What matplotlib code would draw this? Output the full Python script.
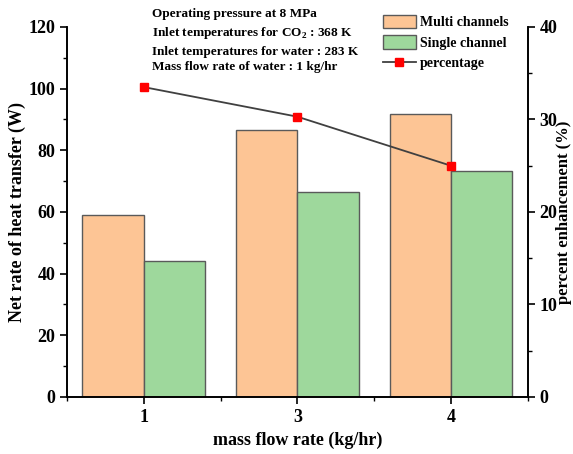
import numpy as np
import matplotlib.pyplot as plt
from matplotlib.ticker import MultipleLocator

plt.rcParams['font.family'] = ['Liberation Serif', 'DejaVu Serif']
plt.rcParams['font.weight'] = 'bold'
plt.rcParams['mathtext.fontset'] = 'custom'
plt.rcParams['mathtext.rm'] = 'Liberation Serif:bold'

flow_rates = ['1', '3', '4']
multi_channels = [59.0, 86.7, 91.8]
single_channel = [44.2, 66.5, 73.4]
percentage = [33.5, 30.3, 25.0]

x = np.arange(1, len(flow_rates) + 1)
w = 0.4

fig = plt.figure(figsize=(5.73, 4.54), dpi=100)
ax = fig.add_axes([0.117, 0.1256, 0.804, 0.815])
ax2 = ax.twinx()

b1 = ax.bar(x - w / 2, multi_channels, w, color='#FDC595', edgecolor='#5a5a5a', linewidth=1,
            label='Multi channels')
b2 = ax.bar(x + w / 2, single_channel, w, color='#9ED89C', edgecolor='#5a5a5a', linewidth=1,
            label='Single channel')
l1, = ax2.plot(x, percentage, color='#404040', linewidth=1.3, marker='s', markersize=6,
               markerfacecolor='red', markeredgecolor='red', label='percentage')

ax.set_xlim(0.5, 3.5)
ax.set_ylim(0, 120)
ax2.set_ylim(0, 40)
ax.set_xticks(x)
ax.set_xticklabels(flow_rates)
ax.xaxis.set_minor_locator(MultipleLocator(0.5))
ax.yaxis.set_minor_locator(MultipleLocator(10))
ax2.yaxis.set_major_locator(MultipleLocator(10))
ax2.yaxis.set_minor_locator(MultipleLocator(5))

for a in (ax, ax2):
    a.spines['top'].set_visible(False)
    for s in a.spines.values():
        s.set_linewidth(1.2)
    a.tick_params(which='major', direction='out', length=5, width=1.2, labelsize=13)
    a.tick_params(which='minor', direction='out', length=3, width=1.0)

ax.set_ylabel('Net rate of heat transfer (W)', fontsize=13, fontweight='bold', labelpad=2)
ax.set_xlabel('mass flow rate (kg/hr)', fontsize=13, fontweight='bold', labelpad=4)
ax2.set_ylabel('percent enhancement (%)', fontsize=12, fontweight='bold')
ax2.yaxis.set_label_coords(1.062, 0.5)

notes = ['Operating pressure at 8 MPa',
         'Inlet temperatures for CO$_2$ : 368 K',
         'Inlet temperatures for water : 283 K',
         'Mass flow rate of water : 1 kg/hr']
ys = [0.969, 0.927, 0.885, 0.852]
for t, yy in zip(notes, ys):
    fig.text(0.265, yy, t, fontsize=9.5, fontweight='bold', va='center')

fig.legend(handles=[b1, b2, l1], loc='upper left', bbox_to_anchor=(0.646, 0.995),
           frameon=False, fontsize=10, handlelength=2.4, handleheight=1.1,
           labelspacing=0.45, handletextpad=0.3)

fig.savefig('out.png', dpi=100)
